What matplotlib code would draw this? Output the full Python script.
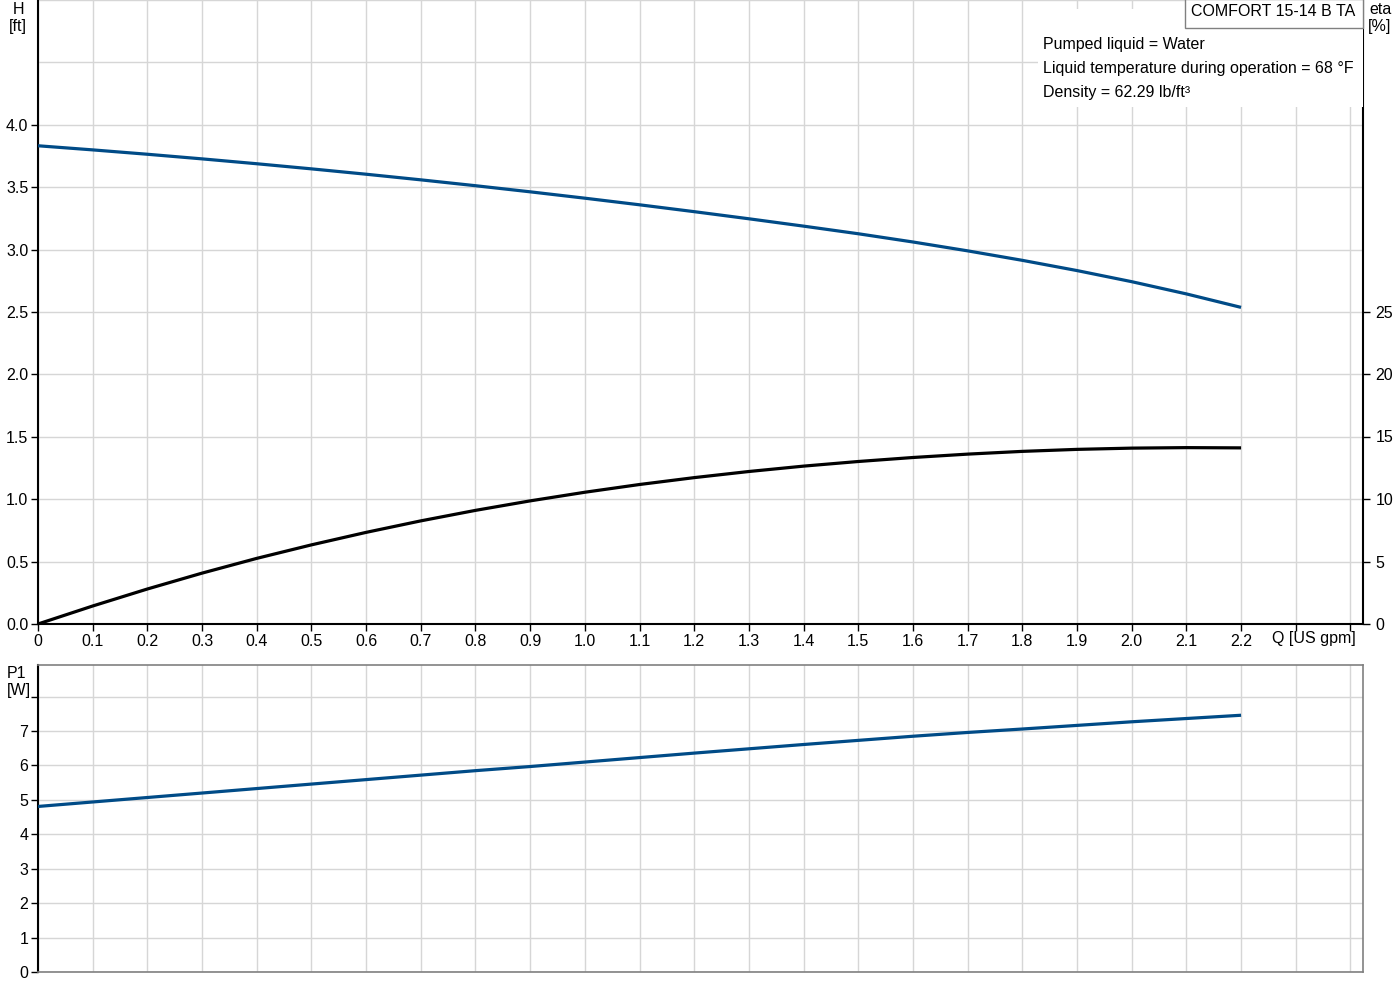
import matplotlib
matplotlib.use('Agg')
import matplotlib.pyplot as plt
from matplotlib.patches import Rectangle

plt.rcParams['font.family'] = ['Liberation Sans', 'DejaVu Sans']
plt.rcParams['font.size'] = 11.5

# flow rate, US gpm
q = [0.0, 0.1, 0.2, 0.3, 0.4, 0.5, 0.6, 0.7, 0.8, 0.9, 1.0, 1.1,
     1.2, 1.3, 1.4, 1.5, 1.6, 1.7, 1.8, 1.9, 2.0, 2.1, 2.2]
# head, ft
head = [3.832, 3.799, 3.764, 3.727, 3.688, 3.647, 3.604, 3.559, 3.512, 3.463,
        3.412, 3.359, 3.304, 3.247, 3.188, 3.127, 3.061, 2.990, 2.914, 2.832,
        2.743, 2.645, 2.537]
# efficiency, %
eta = [0.0, 1.44, 2.80, 4.07, 5.25, 6.33, 7.33, 8.25, 9.09, 9.85, 10.54, 11.16,
       11.71, 12.20, 12.63, 13.00, 13.32, 13.59, 13.81, 13.97, 14.07, 14.11, 14.09]
# power input, W
p1 = [4.81, 4.94, 5.07, 5.20, 5.33, 5.46, 5.59, 5.72, 5.85, 5.97, 6.10, 6.23,
      6.36, 6.485, 6.61, 6.73, 6.85, 6.96, 7.06, 7.165, 7.27, 7.365, 7.46]

x_ticks = [i / 10 for i in range(25)]
x_labels = ['0'] + [f'{t:.1f}' for t in x_ticks[1:23]] + ['', '']
h_ticks = [i / 2 for i in range(9)]
eta_ticks = [0, 5, 10, 15, 20, 25]
p_ticks = list(range(9))

info_lines = ['Pumped liquid = Water',
              'Liquid temperature during operation = 68 \u00b0F',
              'Density = 62.29 lb/ft\u00b3']

BLUE = '#004b87'
GRID = '#d6d6d6'
XMAX = 2.423

fig = plt.figure(figsize=(14, 10), dpi=100)

# ---- upper panel: head and efficiency
ax = fig.add_axes([0.02714, 0.376, 0.94643, 0.624])
ax.set_xlim(0, XMAX)
ax.set_ylim(0, 4.992)
ax.set_xticks(x_ticks)
ax.set_xticklabels(x_labels)
ax.set_yticks(h_ticks)
ax.set_yticklabels([f'{t:.1f}' for t in h_ticks])
ax.set_yticks([4.5, 5.0], minor=True)
ax.tick_params(which='minor', length=0)
ax.grid(True, which='both', color=GRID, lw=1)
ax.set_axisbelow(True)
ax.tick_params(direction='out', length=5, width=1, pad=2, colors='black')
for side in ['left', 'bottom']:
    ax.spines[side].set_linewidth(1.5)
ax.spines['top'].set_visible(False)
ax.spines['right'].set_visible(False)
ax.plot(q, head, color=BLUE, lw=2.3, solid_capstyle='butt', zorder=5)
ax.text(2.334, -0.115, 'Q [US gpm]', ha='center', va='center')

ax2 = ax.twinx()
ax2.set_ylim(0, 49.92)
ax2.set_yticks(eta_ticks)
ax2.tick_params(direction='out', length=5, width=1, pad=4)
ax2.spines['right'].set_linewidth(1.5)
for side in ['left', 'top', 'bottom']:
    ax2.spines[side].set_visible(False)
ax2.plot(q, eta, color='black', lw=2.3, solid_capstyle='butt', zorder=5)

# white info area covering the grid
ax2.add_patch(Rectangle((0.755, 0.828), 0.245, 0.157, transform=ax.transAxes,
                        facecolor='white', edgecolor='none', zorder=3))
ax2.add_patch(Rectangle((0.8657, 0.955), 0.1343, 0.046, transform=ax.transAxes,
                        facecolor='white', edgecolor='#808080', lw=1, zorder=4,
                        clip_on=False))
ax2.text(0.932, 0.982, 'COMFORT 15-14 B TA', transform=ax.transAxes,
         ha='center', va='center', zorder=6)
for i, line in enumerate(info_lines):
    ax2.text(0.7585, 0.929 - i * 0.0385, line, transform=ax.transAxes,
             ha='left', va='center', zorder=6)

fig.text(18 / 1400, 1 - 10 / 1000, 'H', ha='center', va='center')
fig.text(18 / 1400, 1 - 27 / 1000, '[ft]', ha='center', va='center')
fig.text(1380 / 1400, 1 - 9 / 1000, 'eta', ha='center', va='center')
fig.text(1380 / 1400, 1 - 26 / 1000, '[%]', ha='center', va='center')

# ---- lower panel: power input
bx = fig.add_axes([0.02714, 0.028, 0.94643, 0.307])
bx.set_xlim(0, XMAX)
bx.set_ylim(0, 8.92)
bx.set_xticks(x_ticks)
bx.set_xticklabels([])
bx.tick_params(axis='x', length=0)
bx.set_yticks(p_ticks)
bx.set_yticklabels([str(t) for t in p_ticks[:-1]] + [''])
bx.tick_params(axis='y', direction='out', length=5, width=1, pad=2)
bx.grid(True, color=GRID, lw=1)
bx.set_axisbelow(True)
bx.spines['left'].set_linewidth(1.5)
for side in ['top', 'right', 'bottom']:
    bx.spines[side].set_color('#808080')
    bx.spines[side].set_linewidth(1.2)
bx.plot(q, p1, color=BLUE, lw=2.3, solid_capstyle='butt', zorder=5)

fig.text(17 / 1400, 1 - 673 / 1000, 'P1', ha='center', va='center')
fig.text(19 / 1400, 1 - 691 / 1000, '[W]', ha='center', va='center')

fig.savefig('out.png', dpi=100, facecolor='white')
